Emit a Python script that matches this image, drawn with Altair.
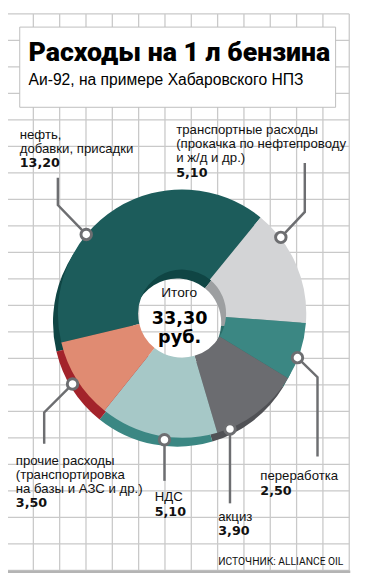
import math
import altair as alt
import pandas as pd

# ---------------- data ----------------
categories = ["нефть, добавки, присадки", "транспортные расходы", "переработка",
              "акциз", "НДС", "прочие расходы"]
values = [13.20, 5.10, 2.50, 3.90, 5.10, 3.50]
face_colors = ["#1c5c5b", "#d3d4d6", "#3b8783", "#6b6c70", "#a6c8c7", "#e08b72"]
rim_colors = ["#0f4544", "#9d9fa1", "#2b6c68", "#505155", "#3b8783", "#a3232b"]

title = "Расходы на 1 л бензина"
subtitle = "Аи-92, на примере Хабаровского НПЗ"
source = "ИСТОЧНИК: ALLIANCE OIL"
center_lines = ["Итого", "33,30", "руб."]

# label texts (normal lines, bold value)
label_text = [
    (["нефть,", "добавки, присадки"], "13,20"),
    (["транспортные расходы", "(прокачка по нефтепроводу", "и ж/д и др.)"], "5,10"),
    (["переработка"], "2,50"),
    (["акциз"], "3,90"),
    (["НДС"], "5,10"),
    (["прочие расходы", "(транспортировка", "на базы и АЗС и др.)"], "3,50"),
]
# layout (page pixel coordinates)
label_xy = [(20, 135), (180, 130.5), (266, 484.5), (223, 526), (158, 506), (16, 468.5)]
line_step = 14.3
leaders = [
    [(59, 175), (59, 203), (88, 233)],
    [(311.5, 160), (311.5, 210), (287, 236)],
    [(304, 359), (324.5, 379), (324.5, 460)],
    [(235, 432), (235, 508)],
    [(168, 443), (168, 485)],
    [(74, 386), (45, 415), (45, 447)],
]

W, H = 362, 578
FACE_C = (186, 314)
RIM_C = (181, 323)
R_OUT, R_IN = 127, 45
START = math.radians(-103.5)

xs = alt.Scale(domain=[8, 8 + W], range=[0, W], nice=False, zero=False)
ys = alt.Scale(domain=[8, 8 + H], range=[0, H], nice=False, zero=False)

def X(f="x"):
    return alt.X(f"{f}:Q", scale=xs, axis=None)

def Y(f="y"):
    return alt.Y(f"{f}:Q", scale=ys, axis=None)

# ---------------- background grid ----------------
gx = [7 + 26.92 * k for k in range(14)]
gy = [7.5 + 27.1 * k for k in range(22)]
grid_rows = [dict(x=v, x2=v, y=7.5, y2=577) for v in gx] + \
            [dict(x=7, x2=357, y=v, y2=v) for v in gy]
grid = alt.Chart(pd.DataFrame(grid_rows)).mark_rule(color="#c9c9c9", strokeWidth=1.3).encode(
    x=X(), x2="x2:Q", y=Y(), y2="y2:Q")
bottom = alt.Chart(pd.DataFrame([dict(x=7, x2=358, y=578, y2=578)])).mark_rule(
    color="#b4b4b4", strokeWidth=2.5).encode(x=X(), x2="x2:Q", y=Y(), y2="y2:Q")

box = alt.Chart(pd.DataFrame([dict(x=20, x2=343, y=21, y2=103)])).mark_rect(
    fill="white", stroke="#bdbdbd", strokeWidth=1).encode(x=X(), x2="x2:Q", y=Y(), y2="y2:Q")

# ---------------- donut ----------------
df = pd.DataFrame({"cat": categories, "value": values, "idx": list(range(len(values)))})
theta = alt.Theta("value:Q", stack=True,
                  scale=alt.Scale(range=[START, START + 2 * math.pi]))

def donut(center, colors):
    return alt.Chart(df).mark_arc(outerRadius=R_OUT, innerRadius=R_IN, stroke=None).encode(
        theta=theta,
        order=alt.Order("idx:Q"),
        color=alt.Color("cat:N", scale=alt.Scale(domain=categories, range=colors), legend=None),
        x=alt.value(center[0] - 8), y=alt.value(center[1] - 8),
    )

rim = donut(RIM_C, rim_colors)
face = donut(FACE_C, face_colors)

# ---------------- leaders ----------------
lrows = []
for g, pts in enumerate(leaders):
    for o, (px, py) in enumerate(pts):
        lrows.append(dict(g=g, o=o, x=px, y=py))
ldf = pd.DataFrame(lrows)
lead = alt.Chart(ldf).mark_line(color="#6d6e71", strokeWidth=2.5).encode(
    x=X(), y=Y(), detail="g:N", order="o:Q")
dots = alt.Chart(pd.DataFrame([dict(x=p[0][0], y=p[0][1]) if i in (2, 3, 4, 5) else
                               dict(x=p[-1][0], y=p[-1][1]) for i, p in enumerate(leaders)])
                 ).mark_circle(color="white", stroke="#6d6e71", strokeWidth=3, size=115, opacity=1
                 ).encode(x=X(), y=Y())

# ---------------- texts ----------------
normal_rows, bold_rows = [], []
for (lines, val), (lx, ly) in zip(label_text, label_xy):
    for i, t in enumerate(lines):
        normal_rows.append(dict(x=lx, y=ly + i * line_step, t=t))
    bold_rows.append(dict(x=lx, y=ly + len(lines) * line_step + 0.5, t=val))

lab = alt.Chart(pd.DataFrame(normal_rows)).mark_text(
    align="left", baseline="alphabetic", font="Liberation Sans", fontSize=13.5, color="#111"
).encode(x=X(), y=Y(), text="t:N")
labb = alt.Chart(pd.DataFrame(bold_rows)).mark_text(
    align="left", baseline="alphabetic", font="DejaVu Sans", fontWeight="bold", fontSize=13, color="#111"
).encode(x=X(), y=Y(), text="t:N")

ttl = alt.Chart(pd.DataFrame([dict(x=29, y=56, t=title)])).mark_text(
    align="left", baseline="alphabetic", font="Roboto", fontWeight=900,
    fontSize=27.3, color="#000").encode(x=X(), y=Y(), text="t:N")
sub = alt.Chart(pd.DataFrame([dict(x=29, y=80, t=subtitle)])).mark_text(
    align="left", baseline="alphabetic", font="Liberation Sans", fontSize=16, color="#000"
).encode(x=X(), y=Y(), text="t:N")
src = alt.Chart(pd.DataFrame([dict(x=223, y=571, t=source)])).mark_text(
    align="left", baseline="alphabetic", font="Roboto", fontSize=10.5, color="#111"
).encode(x=X(), y=Y(), text="t:N")

c1 = alt.Chart(pd.DataFrame([dict(x=183, y=297.5, t=center_lines[0])])).mark_text(
    align="center", baseline="alphabetic", font="Liberation Sans", fontSize=14, color="#111"
).encode(x=X(), y=Y(), text="t:N")
c2 = alt.Chart(pd.DataFrame([dict(x=183.5, y=325, t=center_lines[1]),
                             dict(x=183.5, y=344, t=center_lines[2])])).mark_text(
    align="center", baseline="alphabetic", font="DejaVu Sans", fontWeight="bold", fontSize=18,
    color="#000").encode(x=X(), y=Y(), text="t:N")

chart = alt.layer(grid, bottom, box, rim, face, lead, dots, lab, labb, ttl, sub, src, c1, c2
).resolve_scale(color="independent").properties(
    width=W, height=H, autosize=alt.AutoSizeParams(type="none"), padding=0, background="white"
).configure_view(stroke=None)

chart.save("out.html", embed_options={"renderer": "svg", "actions": False})
